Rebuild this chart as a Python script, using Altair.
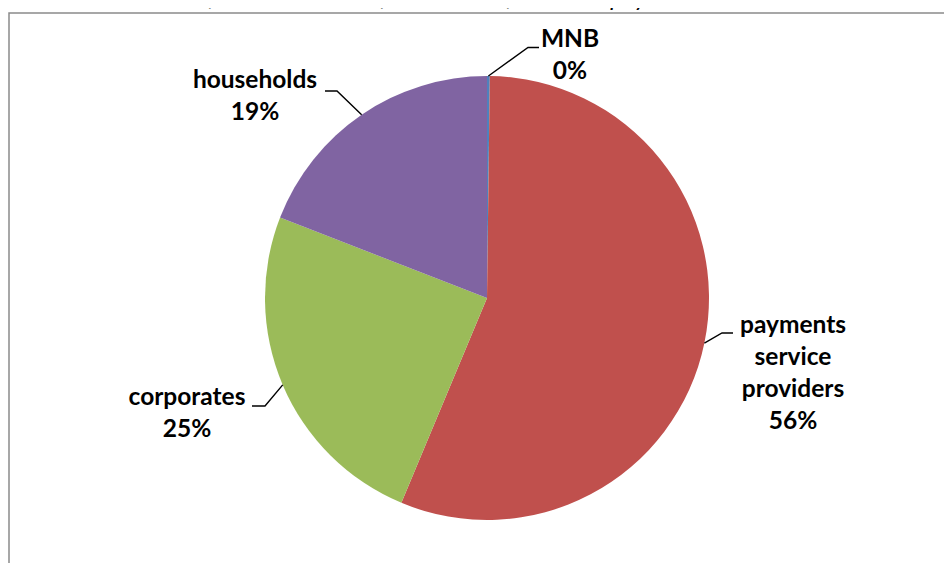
import math
import altair as alt
import pandas as pd

# ---- data ----
names = ["MNB", "payments service providers", "corporates", "households"]
label_lines = ["MNB", "payments\nservice\nproviders", "corporates", "households"]
values = [0.2, 56.1, 24.6, 19.1]
colors = ["#4F81BD", "#C0504D", "#9BBB59", "#8064A2"]
title_text = "Chart 15: Distribution of the social cost of credit transfers in the payment chain in 2009"

# ---- layout (svg pixel coordinates) ----
W, H = 936, 555
CX, CY, R = 479, 290, 222
layout = {
    "MNB": dict(ex=520, ey=39.5, hx=531, tx=562, ty=39),
    "payments service providers": dict(ex=714, ey=325, hx=725, tx=785, ty=325),
    "corporates": dict(ex=257, ey=398, hx=244, tx=179, ty=397),
    "households": dict(ex=329, ey=83, hx=317, tx=247, ty=80),
}

total = sum(values)
pie_df = pd.DataFrame({"name": names, "value": values, "order": list(range(len(names)))})

line_rows, text_rows = [], []
cum = 0.0
for n, lab, v in zip(names, label_lines, values):
    mid = 2 * math.pi * (cum + v / 2) / total
    cum += v
    sx = CX + R * math.sin(mid)
    sy = CY - R * math.cos(mid)
    L = layout[n]
    for k, (px, py) in enumerate([(sx, sy), (L["ex"], L["ey"]), (L["hx"], L["ey"])]):
        line_rows.append({"name": n, "k": k, "px": px, "py": py})
    text_rows.append({"name": n, "tx": L["tx"], "ty": L["ty"], "label": f"{lab}\n{round(v)}%"})

lines_df = pd.DataFrame(line_rows)
text_df = pd.DataFrame(text_rows)

pie = alt.Chart(pie_df).mark_arc(radius=R).encode(
    theta=alt.Theta("value:Q", stack=True),
    color=alt.Color("name:N", scale=alt.Scale(domain=names, range=colors), legend=None),
    order=alt.Order("order:Q"),
    x=alt.value(CX),
    y=alt.value(CY),
)

leaders = alt.Chart(lines_df).mark_line(color="black", strokeWidth=1.4).encode(
    x=alt.X("px:Q", scale=None, axis=None),
    y=alt.Y("py:Q", scale=None, axis=None),
    detail="name:N",
    order="k:Q",
)

labels = alt.Chart(text_df).mark_text(
    lineBreak="\n", lineHeight=32, align="center", baseline="alphabetic",
    font="Lato", fontWeight="bold", fontSize=24.5, color="black",
).encode(
    x=alt.X("tx:Q", scale=None, axis=None),
    y=alt.Y("ty:Q", scale=None, axis=None),
    text="label:N",
)

frame = alt.Chart(pd.DataFrame({"a": [0]})).mark_rect(
    fillOpacity=0, stroke="#8a8a8a", strokeWidth=1.5
).encode(
    x=alt.value(1), y=alt.value(5), x2=alt.value(2000), y2=alt.value(2000)
)

title = alt.Chart(pd.DataFrame({"t": [title_text]})).mark_text(
    align="left", baseline="alphabetic", font="Lato", fontStyle="italic",
    fontSize=24, color="black",
).encode(x=alt.value(-38), y=alt.value(-2), text="t:N")

chart = alt.layer(frame, pie, leaders, labels, title).properties(
    width=W, height=H, autosize=alt.AutoSizeParams(type="none"), padding=0,
    background="white",
).configure_view(strokeWidth=0)

chart.save("out.html", embed_options={"renderer": "svg", "actions": False})
